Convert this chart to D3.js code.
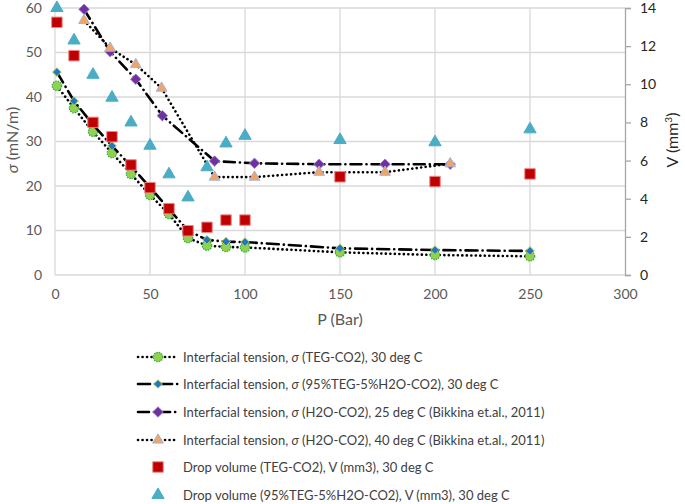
<!DOCTYPE html>
<html><head><meta charset="utf-8">
<script src="https://cdn.jsdelivr.net/npm/d3@7/dist/d3.min.js"></script>
<style>body{margin:0;background:#fff}svg text{font-family:Lato,"Open Sans",sans-serif}</style>
</head><body><svg id="c" width="685" height="504"></svg>
<script>
// ---- data ----
const pressure = [1,10,20,30,40,50,60,70,80,90,100,150,200,250];
const sigmaTEG = [42.5,37.5,32.2,27.4,22.7,18.0,13.7,8.3,6.6,6.3,6.2,5.1,4.5,4.2];
const sigmaMix = [45.6,39.1,33.8,29.0,24.5,19.7,14.8,10.0,7.9,7.5,7.4,6.0,5.6,5.4];
const pH2O25 = [15.3,29,42.5,56.5,84,105,139,173.7,208];
const sigmaH2O25 = [59.7,50.2,44.0,35.8,25.6,25.1,24.9,24.9,24.9];
const pH2O40 = [15.3,29,42.5,56.1,84,105,139,173.7,208];
const sigmaH2O40 = [57.2,51.0,47.3,42.0,22.0,22.0,23.1,23.1,25.0];
const volTEG = [13.25,11.5,8.0,7.25,5.77,4.58,3.48,2.32,2.5,2.88,2.88,5.15,4.9,5.3];
const volMix = [14.0,12.3,10.5,9.3,8.0,6.78,5.28,4.07,5.65,6.9,7.3,7.08,6.96,7.64];
const xTicks = [0,50,100,150,200,250,300];
const yLeftTicks = [0,10,20,30,40,50,60];
const yRightTicks = [0,2,4,6,8,10,12,14];
const legendLabels = [
  "Interfacial tension, σ (TEG-CO2), 30 deg C",
  "Interfacial tension, σ (95%TEG-5%H2O-CO2), 30 deg C",
  "Interfacial tension, σ (H2O-CO2), 25 deg C (Bikkina et.al., 2011)",
  "Interfacial tension, σ (H2O-CO2), 40 deg C (Bikkina et.al., 2011)",
  "Drop volume (TEG-CO2), V (mm3), 30 deg C",
  "Drop volume (95%TEG-5%H2O-CO2), V (mm3), 30 deg C"
];

const svg = d3.select("#c");
const x = d3.scaleLinear().domain([0,300]).range([55,625]);
const yL = d3.scaleLinear().domain([0,60]).range([275,8]);
const yR = d3.scaleLinear().domain([0,14]).range([275,8]);

// grid
const g = svg.append("g");
g.selectAll("line.h").data(yLeftTicks.slice(1)).join("line")
  .attr("x1",55).attr("x2",625).attr("y1",d=>yL(d)).attr("y2",d=>yL(d))
  .attr("stroke","#d9d9d9").attr("stroke-width",1.3);
g.selectAll("line.v").data(xTicks.slice(1,-1)).join("line")
  .attr("x1",d=>x(d)).attr("x2",d=>x(d)).attr("y1",8).attr("y2",275)
  .attr("stroke","#d9d9d9").attr("stroke-width",1.3);
g.append("line").attr("x1",55).attr("x2",55).attr("y1",8).attr("y2",275).attr("stroke","#d9d9d9").attr("stroke-width",1.3);
g.append("line").attr("x1",55).attr("x2",625).attr("y1",275).attr("y2",275).attr("stroke","#d9d9d9").attr("stroke-width",1.3);

// axes
const fontCol = "#595959";
const ax = svg.append("g").attr("transform","translate(0,275)").call(d3.axisBottom(x).tickValues(xTicks).tickSize(0).tickPadding(14));
const ayl = svg.append("g").attr("transform","translate(55,0)").call(d3.axisLeft(yL).tickValues(yLeftTicks).tickSize(0).tickPadding(13));
const ayr = svg.append("g").attr("transform","translate(625,0)").call(d3.axisRight(yR).tickValues(yRightTicks).tickSize(6).tickPadding(9));
[ax,ayl].forEach(a=>{a.select(".domain").remove();a.selectAll("text").attr("font-size",14).attr("fill",fontCol).attr("font-family","Lato");});
ayr.select(".domain").attr("stroke","#a6a6a6").attr("stroke-width",1.3);
ayr.selectAll(".tick line").attr("stroke","#a6a6a6").attr("stroke-width",1.3);
ayr.selectAll("text").attr("font-size",14).attr("fill","#262626").attr("font-family","Lato");

// axis titles
const lt = svg.append("text").attr("transform","translate(18,140) rotate(-90)").attr("text-anchor","middle").attr("font-size",16).attr("fill",fontCol);
lt.append("tspan").attr("font-style","italic").text("σ");
lt.append("tspan").text(" (mN/m)");
const rt = svg.append("text").attr("transform","translate(678,140) rotate(-90)").attr("text-anchor","middle").attr("font-size",16).attr("fill","#262626");
rt.append("tspan").text("V (mm");
rt.append("tspan").attr("font-size",10).attr("dy",-6).text("3");
rt.append("tspan").attr("dy",6).text(")");
svg.append("text").attr("x",340).attr("y",325).attr("text-anchor","middle").attr("font-size",16).attr("fill",fontCol).text("P (Bar)");

// styles
const diamondSym = {draw(ctx,size){const r=Math.sqrt(size/2);ctx.moveTo(0,-r);ctx.lineTo(r,0);ctx.lineTo(0,r);ctx.lineTo(-r,0);ctx.closePath();}};
const styles = [
  {dash:"0.1,4.4", cap:"round", marker:"circle", fill:"#92d050", stroke:"#33b04a", size:70},
  {dash:"12,5,0.1,5", cap:"round", marker:"diamond", fill:"#1f77c8", stroke:"#b8d44a", size:38},
  {dash:"11,5,0.1,5", cap:"round", marker:"diamond", fill:"#7030a0", stroke:"#9b7fd0", size:55},
  {dash:"0.1,4.4", cap:"round", marker:"triangle", fill:"#f4a460", stroke:"#9fb4e0", size:50},
  {marker:"square", fill:"#c00000", stroke:"#e88", size:110},
  {marker:"triangle", fill:"#4bacc6", stroke:"#4bacc6", size:65}
];
const symType = {circle:d3.symbolCircle, diamond:diamondSym, triangle:d3.symbolTriangle, square:d3.symbolSquare};

const series = [
  {p:pressure, v:sigmaTEG, y:yL, s:styles[0]},
  {p:pressure, v:sigmaMix, y:yL, s:styles[1]},
  {p:pH2O25, v:sigmaH2O25, y:yL, s:styles[2]},
  {p:pH2O40, v:sigmaH2O40, y:yL, s:styles[3]},
  {p:pressure, v:volTEG, y:yR, s:styles[4]},
  {p:pressure, v:volMix, y:yR, s:styles[5]}
];

function drawMarker(sel, s){
  return sel.attr("d", d3.symbol().type(symType[s.marker]).size(s.size)())
    .attr("fill", s.fill).attr("stroke", s.stroke).attr("stroke-width", s.marker==="circle"?1.3:1)
    .attr("stroke-dasharray", s.marker==="circle"?"1.5,1":null);
}

const plot = svg.append("g");
series.forEach(sr=>{
  const pts = sr.p.map((p,i)=>[x(p), sr.y(sr.v[i])]);
  if (sr.s.dash) {
    plot.append("path").attr("d", d3.line()(pts)).attr("fill","none").attr("stroke","#000")
      .attr("stroke-width",2.6).attr("stroke-dasharray",sr.s.dash).attr("stroke-linecap",sr.s.cap);
  }
  plot.append("g").selectAll("path").data(pts).join("path")
    .attr("transform",d=>`translate(${d[0]},${d[1]})`).call(drawMarker, sr.s);
});

// legend
const legY = [357,384,412,440,467,495];
const leg = svg.append("g");
legendLabels.forEach((lab,i)=>{
  const s = styles[i], y = legY[i];
  if (s.dash) {
    leg.append("line").attr("x1",138).attr("x2",178).attr("y1",y).attr("y2",y)
      .attr("stroke","#000").attr("stroke-width",2.6).attr("stroke-dasharray",s.dash).attr("stroke-linecap",s.cap);
  }
  leg.append("path").attr("transform",`translate(158,${y})`).call(drawMarker, s);
  const t = leg.append("text").attr("x",183).attr("y",y+5).attr("font-size",13).attr("fill","#404040");
  const parts = lab.split("σ");
  t.append("tspan").text(parts[0]);
  if (parts.length>1){ t.append("tspan").attr("font-style","italic").text("σ"); t.append("tspan").text(parts[1]); }
});
</script></body></html>
